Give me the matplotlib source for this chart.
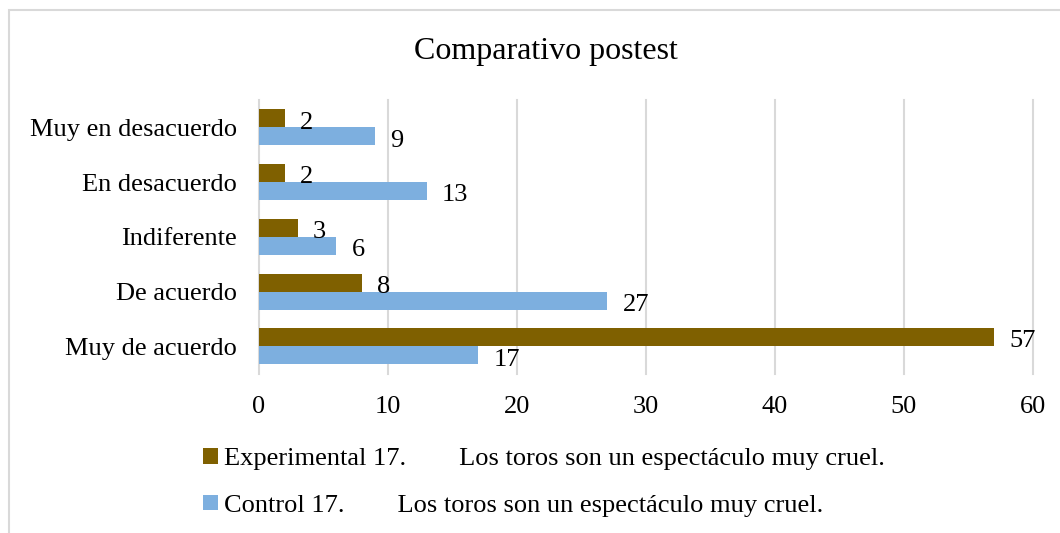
import matplotlib
matplotlib.use("Agg")
import matplotlib.pyplot as plt
from matplotlib.patches import Patch, Rectangle
import numpy as np

categories = ["Muy de acuerdo", "De acuerdo", "Indiferente", "En desacuerdo", "Muy en desacuerdo"]
experimental = [57, 8, 3, 2, 2]
control = [17, 27, 6, 13, 9]
x_ticks = [0, 10, 20, 30, 40, 50, 60]
title = "Comparativo postest"
label_exp = "Experimental 17.        Los toros son un espectáculo muy cruel."
label_ctl = "Control 17.        Los toros son un espectáculo muy cruel."

c_exp = "#7F6000"
c_ctl = "#7DAFDF"

plt.rcParams['font.family'] = ['Liberation Serif', 'DejaVu Serif']

W, H = 1060, 533
fig = plt.figure(figsize=(W / 100, H / 100), dpi=100)
fig.patch.set_facecolor("white")

# light gray chart border (cropped on right/bottom)
fig.patches.append(Rectangle((8.5 / W, -0.1), 1.2, 1.1 - 10 / H,
                             transform=fig.transFigure, fill=False,
                             edgecolor="#D9D9D9", linewidth=1.5))

left, right = 259 / W, 1033 / W
top, bottom = 1 - 100 / H, 1 - 373.7 / H
ax = fig.add_axes([left, bottom, right - left, top - bottom])

y = np.arange(len(categories))
h = 0.33
b1 = ax.barh(y + h / 2, experimental, height=h, color=c_exp, zorder=3)
b2 = ax.barh(y - h / 2, control, height=h, color=c_ctl, zorder=3)

for bars, vals in ((b1, experimental), (b2, control)):
    for rect, v in zip(bars, vals):
        ax.annotate(str(v), (rect.get_width(), rect.get_y() + rect.get_height() / 2),
                    xytext=(11, -3), textcoords="offset points",
                    ha="left", va="center", fontsize=19, color="black")

ax.set_xlim(0, 60)
ax.set_ylim(-0.5, len(categories) - 0.5)
ax.set_xticks(x_ticks)
ax.set_xticklabels([str(t) for t in x_ticks])
ax.set_yticks(y)
ax.set_yticklabels(categories)
ax.tick_params(axis="both", length=0, labelsize=19, colors="black")
ax.tick_params(axis="x", pad=16)
ax.tick_params(axis="y", pad=16)
for s in ax.spines.values():
    s.set_visible(False)
ax.xaxis.grid(True, color="#D9D9D9", linewidth=1.5, zorder=0)
for gl in ax.get_xgridlines():
    gl.set_clip_on(False)
ax.set_axisbelow(True)

fig.text(545.5 / W, 1 - 52 / H, title, ha="center", va="center", fontsize=23)

handles = [Patch(facecolor=c_exp, edgecolor="none"), Patch(facecolor=c_ctl, edgecolor="none")]
fig.legend(handles, [label_exp, label_ctl], loc="upper left",
           bbox_to_anchor=(203 / W, 1 - 448 / H), frameon=False, fontsize=19,
           handlelength=0.55, handleheight=0.55, handletextpad=0.25,
           labelspacing=0.92, borderpad=0, borderaxespad=0)

fig.savefig("out.png", dpi=100, facecolor="white")
